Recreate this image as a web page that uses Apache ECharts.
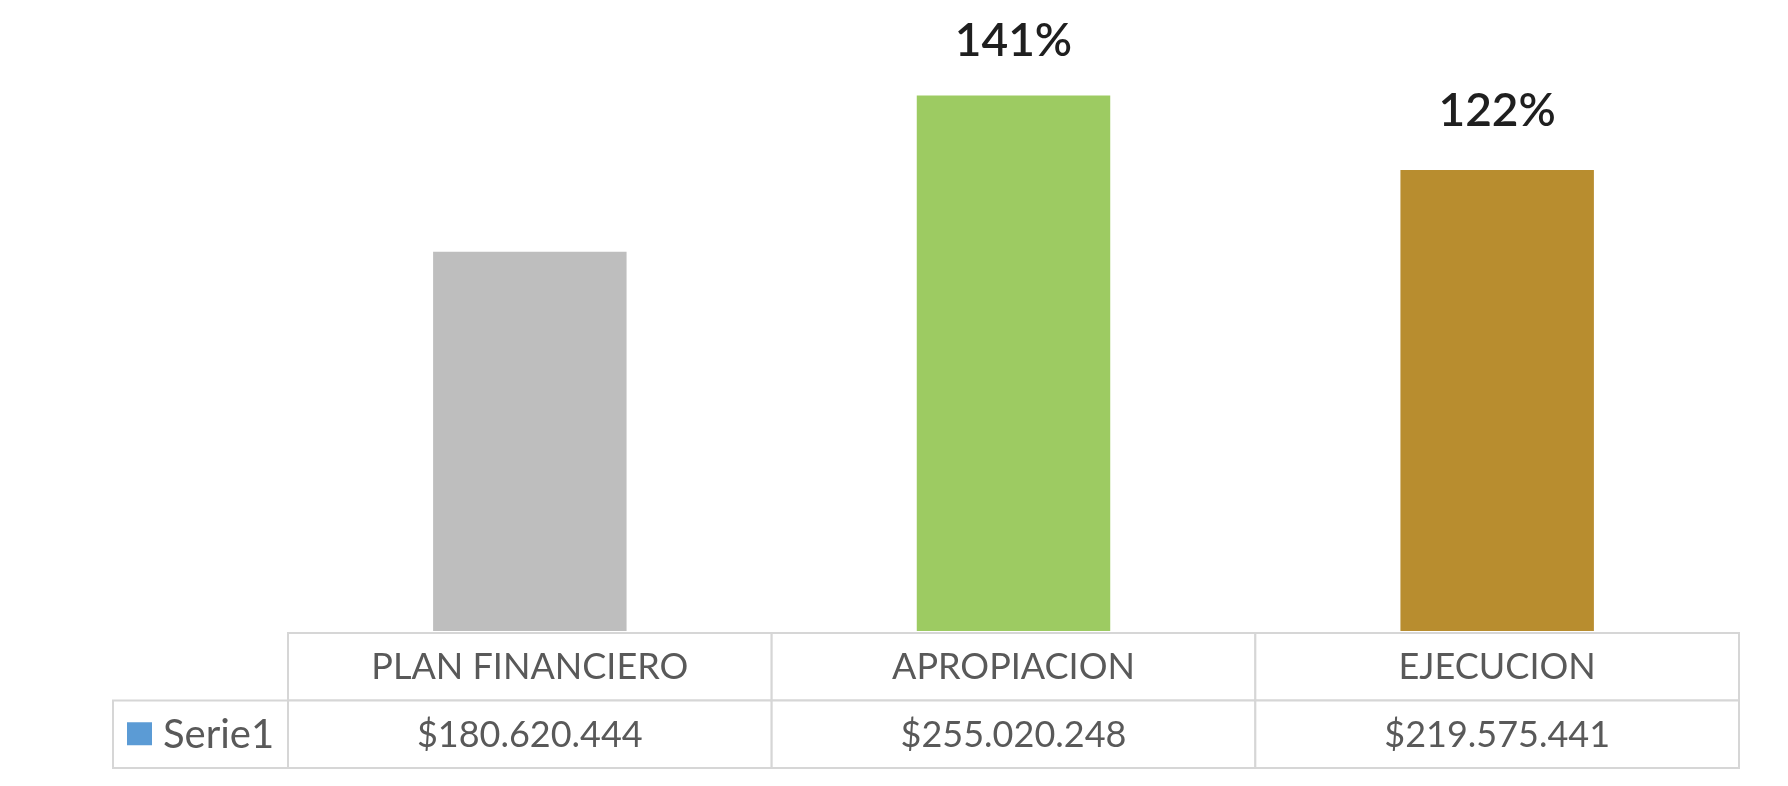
<!DOCTYPE html>
<html lang="es">
	<head>
		<meta charset="utf-8" />
		<title>Plan financiero - apropiacion - ejecucion</title>
		<style>
			html, body { margin: 0; padding: 0; background: #ffffff; }
			#barMap { width: 1788px; height: 786px; }
		</style>
	</head>

	<body>
		<div id="barMap"></div>

		<script type="text/javascript" src="https://cdn.jsdelivr.net/npm/echarts@6/dist/echarts.min.js"></script>
		<script type="text/javascript">
			// datos de la grafica
			var categories = ['PLAN FINANCIERO', 'APROPIACION', 'EJECUCION'];
			var values = [180620444, 255020248, 219575441];
			var barColors = ['#bebebe', '#9dcb62', '#b88d2f'];
			var seriesName = 'Serie1';
			var legendColor = '#5b9bd5';

			var fontName = 'Lato';
			var borderColor = '#d6d6d6';

			// $180.620.444
			function formatMoney(v) {
				return '$' + String(v).replace(/\B(?=(\d{3})+(?!\d))/g, '.');
			}

			// porcentaje respecto al plan financiero
			function formatPercent(i) {
				if (i === 0) return '';
				return Math.round(values[i] / values[0] * 100) + '%';
			}

			loadBar();

			function loadBar() {
				var chart = echarts.init(document.getElementById('barMap'));

				var barData = values.map(function (v, i) {
					return {
						value: v,
						itemStyle: { color: barColors[i] },
						label: { distance: i === 1 ? 31 : 36 }
					};
				});

				// celdas de la tabla: [columna, fila, texto]
				var tableData = [];
				categories.forEach(function (c, i) {
					tableData.push([i, 0, c]);
					tableData.push([i, 1, formatMoney(values[i])]);
				});
				tableData.push([0, 1, seriesName, 'legend']);

				var option = {
					animation: false,
					grid: [
						{ left: 288, right: 49, top: 43, bottom: 155 },
						{ left: 288, right: 49, top: 633, bottom: 18 }
					],
					xAxis: [
						{
							type: 'category',
							gridIndex: 0,
							data: categories,
							show: false
						},
						{
							type: 'category',
							gridIndex: 1,
							data: categories,
							show: false
						}
					],
					yAxis: [
						{
							type: 'value',
							gridIndex: 0,
							min: 0,
							max: 280000000,
							show: false,
							splitLine: { show: false }
						},
						{
							type: 'category',
							gridIndex: 1,
							data: ['cat', 'val'],
							inverse: true,
							show: false
						}
					],
					series: [
						{
							name: seriesName,
							type: 'bar',
							xAxisIndex: 0,
							yAxisIndex: 0,
							barWidth: '40%',
							data: barData,
							label: {
								show: true,
								position: 'top',
								fontFamily: fontName,
								fontSize: 46,
								fontWeight: 600,
								color: '#1f1f1f',
								formatter: function (p) {
									return formatPercent(p.dataIndex);
								}
							}
						},
						{
							// tabla de datos debajo del grafico
							type: 'custom',
							xAxisIndex: 1,
							yAxisIndex: 1,
							encode: { x: 0, y: 1 },
							data: tableData,
							renderItem: function (params, api) {
								var center = api.coord([api.value(0), api.value(1)]);
								var size = api.size([1, 1]);
								var w = size[0], h = size[1];
								var isLegend = tableData[params.dataIndex][3] === 'legend';
								var text = tableData[params.dataIndex][2];

								if (isLegend) {
									var right = center[0] - w / 2;
									var left = 113;
									return {
										type: 'group',
										children: [
											{
												type: 'rect',
												shape: { x: left, y: center[1] - h / 2, width: right - left, height: h },
												style: { fill: '#ffffff', stroke: borderColor, lineWidth: 2 }
											},
											{
												type: 'rect',
												shape: { x: left + 14, y: center[1] - 12, width: 25, height: 23 },
												style: { fill: legendColor }
											},
											{
												type: 'text',
												style: {
													text: text,
													x: left + 50,
													y: center[1] + 1,
													align: 'left',
													verticalAlign: 'middle',
													fontFamily: fontName,
													fontSize: 40,
													fill: '#595959'
												}
											}
										]
									};
								}

								return {
									type: 'group',
									children: [
										{
											type: 'rect',
											shape: { x: center[0] - w / 2, y: center[1] - h / 2, width: w, height: h },
											style: { fill: '#ffffff', stroke: borderColor, lineWidth: 2 }
										},
										{
											type: 'text',
											style: {
												text: text,
												x: center[0],
												y: center[1] + 1,
												align: 'center',
												verticalAlign: 'middle',
												fontFamily: fontName,
												fontSize: 36,
												fill: '#595959'
											}
										}
									]
								};
							}
						}
					]
				};

				chart.setOption(option);
			}
		</script>
	</body>
</html>
